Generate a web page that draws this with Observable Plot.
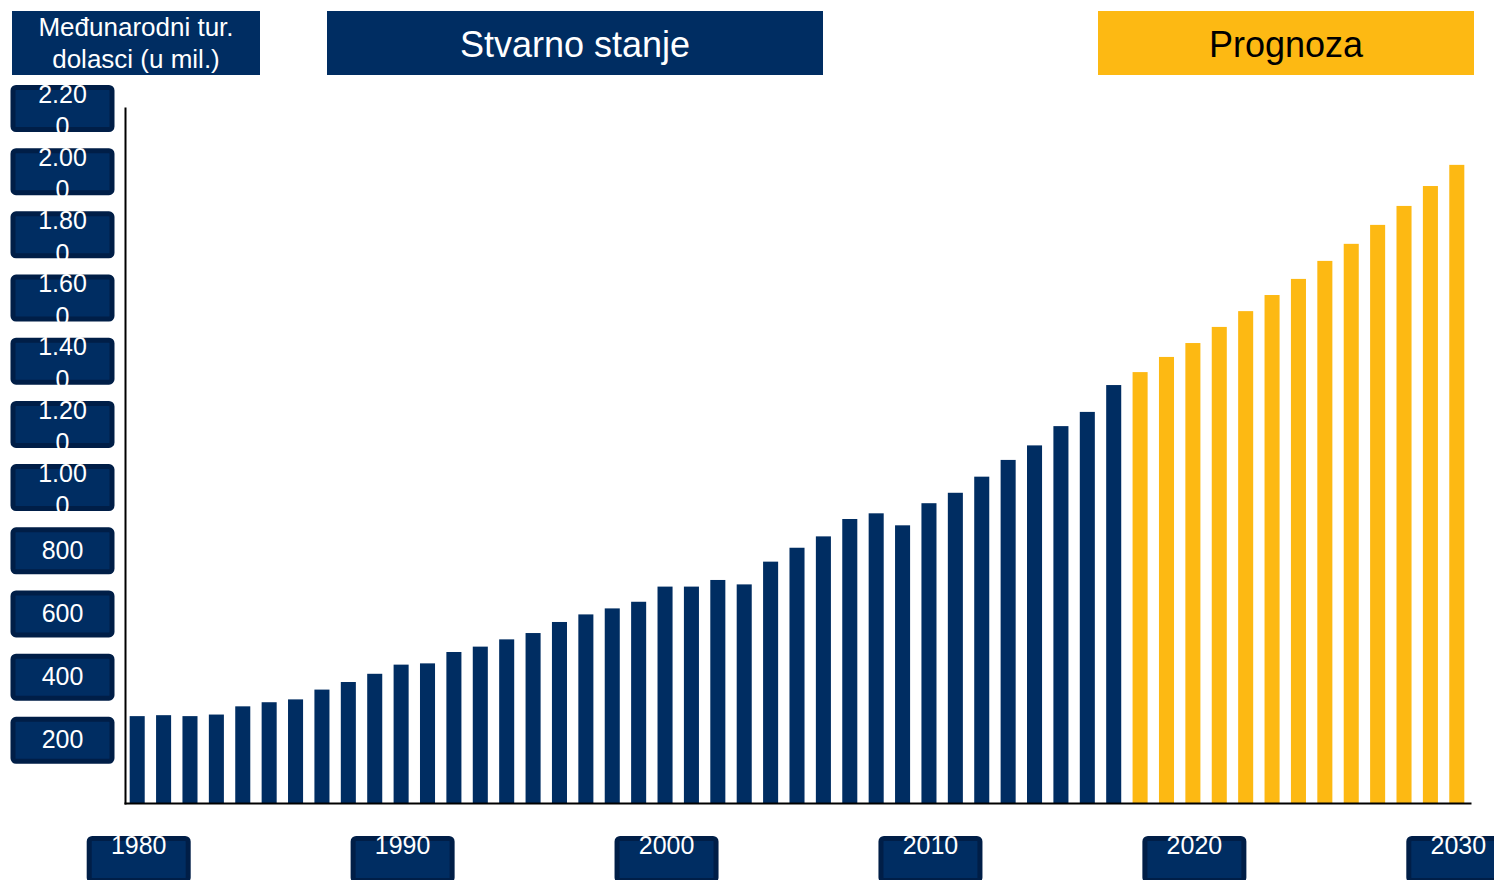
<!DOCTYPE html>
<html>
<head>
<meta charset="utf-8">
<script src="https://cdn.jsdelivr.net/npm/d3@7"></script>
<script src="https://cdn.jsdelivr.net/npm/@observablehq/plot@0.6"></script>
<style>
  html, body { margin: 0; padding: 0; overflow: hidden; background: #fff; }
  #wrap { position: relative; width: 1494px; height: 880px; font-family: "Liberation Sans", Arial, sans-serif; }
  #chart { position: absolute; left: 0; top: 0; }
  .hdr { position: absolute; top: 11px; height: 64px; display: flex; align-items: center; justify-content: center; text-align: center; }
</style>
</head>
<body>
<div id="wrap">
  <div id="chart"></div>
  <div class="hdr" id="h1" style="left:12px;width:248px;background:#002D62;color:#fff;font-size:26px;line-height:32px;"></div>
  <div class="hdr" id="h2" style="left:327px;width:496px;background:#002D62;color:#fff;font-size:36px;padding-top:3px;box-sizing:border-box;"></div>
  <div class="hdr" id="h3" style="left:1098px;width:376px;background:#FDB913;color:#000;font-size:36px;padding-top:3px;box-sizing:border-box;"></div>
</div>
<script>
// ---- data ----
const actualYears = [1980,1981,1982,1983,1984,1985,1986,1987,1988,1989,1990,1991,1992,1993,1994,1995,1996,1997,1998,1999,2000,2001,2002,2003,2004,2005,2006,2007,2008,2009,2010,2011,2012,2013,2014,2015,2016,2017];
const actualValues = [275,278,275,280,306,319,328,359,383,409,438,442,478,495,518,538,573,597,616,637,685,685,706,692,764,808,844,899,917,879,949,982,1033,1086,1132,1193,1238,1323];
const forecastYears = [2018,2019,2020,2021,2022,2023,2024,2025,2026,2027,2028,2029,2030];
const forecastValues = [1364,1412,1456,1507,1557,1608,1659,1716,1770,1830,1890,1953,2020];
const yTicks = [200,400,600,800,1000,1200,1400,1600,1800,2000,2200];
const yTickLabels = ["200","400","600","800","1.000","1.200","1.400","1.600","1.800","2.000","2.200"];
const xTicks = [1980,1990,2000,2010,2020,2030];
const xTickLabels = ["1980","1990","2000","2010","2020","2030"];
const yAxisTitle = "Međunarodni tur.<br>dolasci (u mil.)";
const actualTitle = "Stvarno stanje";
const forecastTitle = "Prognoza";

// ---- styles ----
const NAVY = "#002D62", NAVY_DARK = "#001E47", GOLD = "#FDB913";
const FONT = "Liberation Sans, Arial, sans-serif";

document.getElementById("h1").innerHTML = yAxisTitle;
document.getElementById("h2").textContent = actualTitle;
document.getElementById("h3").textContent = forecastTitle;

const actual = actualYears.map((y, i) => ({year: y, value: actualValues[i]}));
const forecast = forecastYears.map((y, i) => ({year: y, value: forecastValues[i]}));
const allYears = actualYears.concat(forecastYears);

// rounded box symbol for tick labels (104 x 47 incl. stroke)
const labelBox = {
  draw(ctx) {
    const w = 99, h = 42, r = 3, x0 = -w / 2, y0 = -h / 2, x1 = w / 2, y1 = h / 2;
    ctx.moveTo(x0 + r, y0);
    ctx.arcTo(x1, y0, x1, y1, r);
    ctx.arcTo(x1, y1, x0, y1, r);
    ctx.arcTo(x0, y1, x0, y0, r);
    ctx.arcTo(x0, y0, x1, y0, r);
    ctx.closePath();
  }
};

const wrap = s => s.length > 4 ? s.slice(0, 4) + "\n" + s.slice(4) : s;
const yLab = yTicks.map((v, i) => ({v, label: wrap(yTickLabels[i]), multi: yTickLabels[i].length > 4}));
const xLab = xTicks.map((v, i) => ({v, label: xTickLabels[i]}));

const chart = Plot.plot({
  width: 1494,
  height: 880,
  marginLeft: 125,
  marginRight: 24,
  marginTop: 108,
  marginBottom: 77,
  style: {background: "transparent", fontFamily: FONT, overflow: "visible"},
  x: {type: "band", domain: allYears, range: [124, 1470], paddingInner: 0.43, paddingOuter: 0.215, round: false, axis: null},
  y: {domain: [0, 2200], axis: null},
  marks: [
    Plot.barY(actual, {x: "year", y: "value", fill: NAVY}),
    Plot.barY(forecast, {x: "year", y: "value", fill: GOLD}),
    Plot.frame({anchor: "left", stroke: "#000", strokeWidth: 2}),
    Plot.frame({anchor: "bottom", stroke: "#000", strokeWidth: 2}),
    // y tick label boxes
    Plot.dot(yLab, {y: "v", frameAnchor: "left", dx: -63, r: 5, symbol: labelBox, fill: NAVY, stroke: NAVY_DARK, strokeWidth: 5}),
    Plot.text(yLab.filter(d => !d.multi), {y: "v", text: "label", frameAnchor: "left", dx: -63, lineAnchor: "middle", fill: "#fff", fontSize: 25, textAnchor: "middle"}),
    Plot.text(yLab.filter(d => d.multi), {y: "v", text: "label", frameAnchor: "left", dx: -63, dy: 0, lineAnchor: "middle", lineHeight: 1.3, fill: "#fff", fontSize: 25, textAnchor: "middle"}),
    // x tick label boxes
    Plot.dot(xLab, {x: "v", frameAnchor: "bottom", dx: 1, dy: 56, r: 5, symbol: labelBox, fill: NAVY, stroke: NAVY_DARK, strokeWidth: 5}),
    Plot.text(xLab, {x: "v", text: "label", frameAnchor: "bottom", dx: 1, dy: 42, lineAnchor: "middle", fill: "#fff", fontSize: 25, textAnchor: "middle"})
  ]
});
document.getElementById("chart").appendChild(chart);
</script>
</body>
</html>
